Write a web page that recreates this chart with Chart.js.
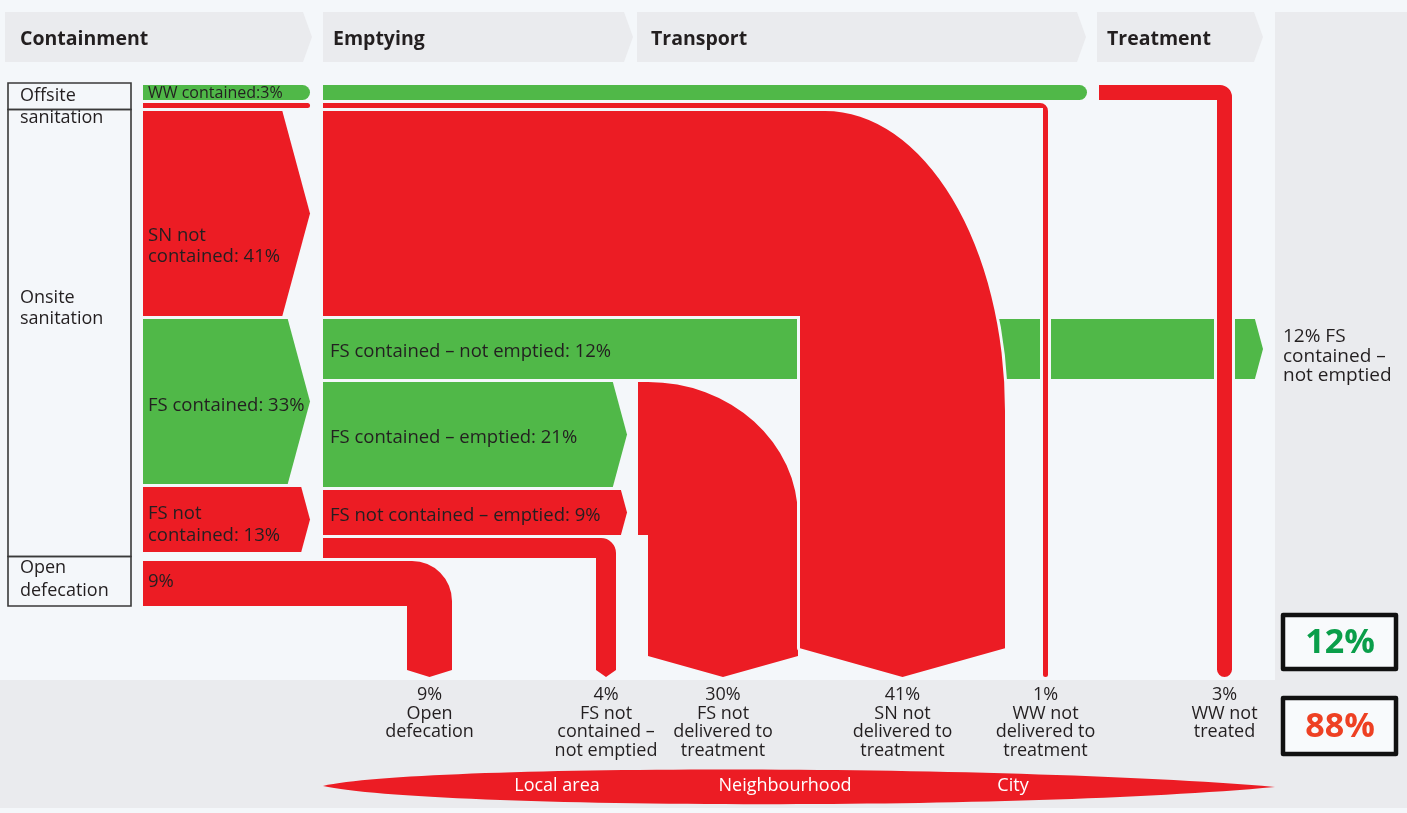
<!DOCTYPE html>
<html>
<head>
<meta charset="utf-8">
<script src="https://cdn.jsdelivr.net/npm/chart.js@4.4.1/dist/chart.umd.min.js"></script>
<style>
  html, body { margin: 0; padding: 0; background: #f4f7fa; }
  #wrap { width: 1407px; height: 813px; }
</style>
</head>
<body>
<div id="wrap"><canvas id="flowChart" width="1407" height="813"></canvas></div>
<script>
// Service chain stages and zones
const stages = ["Containment", "Emptying", "Transport", "Treatment"];
const systems = ["Offsite\nsanitation", "Onsite\nsanitation", "Open\ndefecation"];
const zones = ["Local area", "Neighbourhood", "City"];

// Containment split (% of population)
const containLabels = ["WW contained", "WW not contained", "SN not\ncontained", "FS contained", "FS not\ncontained", "Open defecation"];
const containPct = [3, 1, 41, 33, 13, 9];

// Emptying split of onsite FS
const emptyLabels = ["FS contained – not emptied", "FS contained – emptied", "FS not contained – emptied", "FS not contained – not emptied"];
const emptyPct = [12, 21, 9, 4];

// Where the unsafe flows end up
const outcomeLabels = ["Open\ndefecation", "FS not\ncontained –\nnot emptied", "FS not\ndelivered to\ntreatment", "SN not\ndelivered to\ntreatment", "WW not\ndelivered to\ntreatment", "WW not\ntreated"];
const outcomePct = [9, 4, 30, 41, 1, 3];

const safePct = 12;
const unsafePct = 88;

// ---- layout (diagram units) ----
const W = 1407, H = 813;
const K = 5;        // units per percentage point
const GAP = 3;
const TOP = 85;
const FLOOR = 677;  // bottom of the unsafe drops
const dropX = [407, 596, 648, 800, 1043, 1217];

const RED = "#ec1c24", GREEN = "#50b848", BG = "#f4f7fa", PANEL = "#eaebee", INK = "#231f20";
const FONT = '"Open Sans", "Noto Sans", sans-serif';

function stack(pcts, start) {
  let y = start;
  return pcts.map(function (p) {
    const b = { y0: y, y1: y + p * K };
    y = b.y1 + GAP;
    return b;
  });
}

const cb = stack(containPct.slice(0, 5), TOP);
const eb = stack(containPct.slice(0, 3).concat(emptyPct), TOP);
const od = stack([containPct[5]], eb[6].y1 + GAP)[0];
const mid = (b) => (b.y0 + b.y1) / 2;

function pen(chart) {
  const sx = chart.scales.x, sy = chart.scales.y, c = chart.ctx;
  const X = (v) => sx.getPixelForValue(v);
  const Y = (v) => sy.getPixelForValue(v);
  return {
    c, X, Y,
    M: (x, y) => c.moveTo(X(x), Y(y)),
    L: (x, y) => c.lineTo(X(x), Y(y)),
    C: (a, b, e, f, x, y) => c.bezierCurveTo(X(a), Y(b), X(e), Y(f), X(x), Y(y)),
    E: (cx, cy, rx, ry, a0, a1) =>
      c.ellipse(X(cx), Y(cy), Math.abs(X(cx + rx) - X(cx)), Math.abs(Y(cy + ry) - Y(cy)), 0, a0, a1),
    rect: (x0, y0, x1, y1) => c.rect(X(x0), Y(y0), X(x1) - X(x0), Y(y1) - Y(y0)),
  };
}

function fillPath(d, color, halo) {
  if (halo) {
    d.c.strokeStyle = BG;
    d.c.lineWidth = 6;
    d.c.lineJoin = "round";
    d.c.stroke();
  }
  d.c.fillStyle = color;
  d.c.fill();
}

function arrowRight(d, x0, tip, b, color) {
  const xe = tip - (0.27 * (b.y1 - b.y0)) / 2;
  d.c.beginPath();
  d.M(x0, b.y0); d.L(xe, b.y0); d.L(tip, mid(b)); d.L(xe, b.y1); d.L(x0, b.y1);
  d.c.closePath();
  fillPath(d, color);
}

function pill(d, x0, x1, b, color) {
  const r = (b.y1 - b.y0) / 2;
  d.c.beginPath();
  d.M(x0, b.y0); d.L(x1 - r, b.y0);
  d.E(x1 - r, b.y0 + r, r, r, -Math.PI / 2, Math.PI / 2);
  d.L(x0, b.y1);
  d.c.closePath();
  fillPath(d, color);
}

// horizontal band b starting at x0, turning down into a column of width w at vx
function elbow(d, x0, b, vx, w, rx, ry, end, color, halo) {
  const vx1 = vx + w;
  d.c.beginPath();
  d.M(x0, b.y0);
  d.L(vx1 - rx, b.y0);
  d.E(vx1 - rx, b.y0 + ry, rx, ry, -Math.PI / 2, 0);
  if (end === "round") {
    d.L(vx1, FLOOR - w / 2);
    d.E(vx + w / 2, FLOOR - w / 2, w / 2, w / 2, 0, Math.PI);
  } else {
    const dep = Math.max(7, 0.14 * w);
    d.L(vx1, FLOOR - dep); d.L(vx + w / 2, FLOOR); d.L(vx, FLOOR - dep);
  }
  d.L(vx, b.y1);
  d.L(x0, b.y1);
  d.c.closePath();
  fillPath(d, color, halo);
}

function text(d, str, x, y, opt) {
  const c = d.c;
  c.font = opt.font;
  c.fillStyle = opt.color || INK;
  c.textAlign = opt.align || "left";
  c.textBaseline = "middle";
  str.split("\n").forEach((s, i) => c.fillText(s, d.X(x), d.Y(y + i * (opt.lh || 20))));
}

const stageCols = [[5, 312], [323, 633], [637, 1086], [1097, 1263]];
const stageTextX = [20, 333, 651, 1107];

function drawBackground(d) {
  const c = d.c;
  c.fillStyle = BG;
  c.fillRect(0, 0, d.X(W), d.Y(H));
  c.fillStyle = PANEL;
  c.beginPath(); d.rect(1275, 12, W, 680); d.rect(0, 680, W, 808); c.fill();

  stageCols.forEach(function (s, i) {
    c.beginPath();
    d.M(s[0], 12); d.L(s[1] - 9, 12); d.L(s[1], 37); d.L(s[1] - 9, 62); d.L(s[0], 62);
    c.closePath();
    c.fillStyle = PANEL;
    c.fill();
    text(d, stages[i], stageTextX[i], 39, { font: "bold 19.5px " + FONT });
  });

  // system boxes on the left
  const split1 = (cb[1].y1 + cb[2].y0) / 2;
  const split2 = (cb[4].y1 + od.y0) / 2;
  const boxes = [[83, split1], [split1, split2], [split2, od.y1]];
  c.strokeStyle = "#3a3a3a";
  c.lineWidth = 1.6;
  boxes.forEach(function (b) {
    c.beginPath(); d.rect(8, b[0], 131, b[1]); c.stroke();
  });
  const f18 = "18px " + FONT;
  text(d, systems[0], 20, 96, { font: f18, lh: 22 });
  text(d, systems[1], 20, 298, { font: f18, lh: 21 });
  text(d, systems[2], 20, 568, { font: f18, lh: 23 });
}

function drawFlows(d) {
  const f = "18.5px " + FONT;

  // containment column
  pill(d, 143, 310, cb[0], GREEN);
  pill(d, 143, 310, cb[1], RED);
  arrowRight(d, 143, 310, cb[2], RED);
  arrowRight(d, 143, 310, cb[3], GREEN);
  arrowRight(d, 143, 310, cb[4], RED);
  elbow(d, 143, od, dropX[0], outcomePct[0] * K, 40, 40, "point", RED);

  // emptying → treatment
  pill(d, 323, 1087, eb[0], GREEN);
  arrowRight(d, 323, 1263, eb[3], GREEN);
  arrowRight(d, 323, 627, eb[4], GREEN);
  arrowRight(d, 323, 627, eb[5], RED);
  elbow(d, 323, eb[6], dropX[1], outcomePct[1] * K, 15, 15, "point", RED);
  elbow(d, 638, { y0: eb[4].y0, y1: eb[5].y1 }, dropX[2], outcomePct[2] * K, outcomePct[2] * K, 135, "point", RED);
  elbow(d, 323, eb[2], dropX[3], outcomePct[3] * K, 180, 300, "point", RED, true);
  elbow(d, 323, eb[1], dropX[4], outcomePct[4] * K, 8, 8, "round", RED, true);
  elbow(d, 1099, eb[0], dropX[5], outcomePct[5] * K, 12, 12, "round", RED, true);

  // flow labels
  text(d, containLabels[0] + ":" + containPct[0] + "%", 148, mid(cb[0]) + 1, { font: "16px " + FONT });
  text(d, containLabels[2] + ": " + containPct[2] + "%", 148, mid(cb[2]) + 22, { font: f, lh: 21 });
  text(d, containLabels[3] + ": " + containPct[3] + "%", 148, mid(cb[3]) + 4, { font: f });
  text(d, containLabels[4] + ": " + containPct[4] + "%", 148, mid(cb[4]) - 6, { font: f, lh: 22 });
  text(d, containPct[5] + "%", 148, mid(od) - 2, { font: f });
  for (let i = 0; i < 3; i++) {
    text(d, emptyLabels[i] + ": " + emptyPct[i] + "%", 330, mid(eb[3 + i]) + 3, { font: f });
  }
  text(d, emptyPct[0] + "% FS\ncontained –\nnot emptied", 1283, 337, { font: "19px " + FONT, lh: 19.5 });

  // outcomes along the bottom
  dropX.forEach(function (x, i) {
    const cx = x + (outcomePct[i] * K) / 2;
    text(d, outcomePct[i] + "%\n" + outcomeLabels[i], cx, 695, { font: "18px " + FONT, lh: 18.5, align: "center" });
  });

  // safe / unsafe totals
  const c = d.c;
  [[615, 669, safePct, "#0a9e4a"], [698, 754, unsafePct, "#ee4023"]].forEach(function (b) {
    c.beginPath();
    d.rect(1283, b[0], 1396, b[1]);
    c.fillStyle = "#f8fafc";
    c.fill();
    c.lineWidth = 4.5;
    c.strokeStyle = "#111";
    c.stroke();
    text(d, b[2] + "%", 1340, (b[0] + b[1]) / 2 + 1, { font: "bold 34px " + FONT, color: b[3], align: "center" });
  });

  // zone lens
  c.beginPath();
  d.M(323, 786);
  d.C(420, 764, 1000, 764, 1275, 787);
  d.C(1000, 812, 420, 808, 323, 786);
  c.closePath();
  c.fillStyle = RED;
  c.fill();
  [557, 785, 1013].forEach(function (x, i) {
    text(d, zones[i], x, 786, { font: "18px " + FONT, color: "#fff", align: "center" });
  });
}

const flowPlugin = {
  id: "flows",
  beforeDraw(chart) {
    drawBackground(pen(chart));
  },
  afterDraw(chart) {
    drawFlows(pen(chart));
  },
};

new Chart(document.getElementById("flowChart"), {
  type: "scatter",
  data: { datasets: [] },
  options: {
    responsive: false,
    animation: false,
    devicePixelRatio: 1,
    layout: { padding: 0 },
    scales: {
      x: { type: "linear", min: 0, max: W, display: false },
      y: { type: "linear", min: 0, max: H, reverse: true, display: false },
    },
    plugins: { legend: { display: false }, tooltip: { enabled: false } },
  },
  plugins: [flowPlugin],
});
</script>
</body>
</html>
